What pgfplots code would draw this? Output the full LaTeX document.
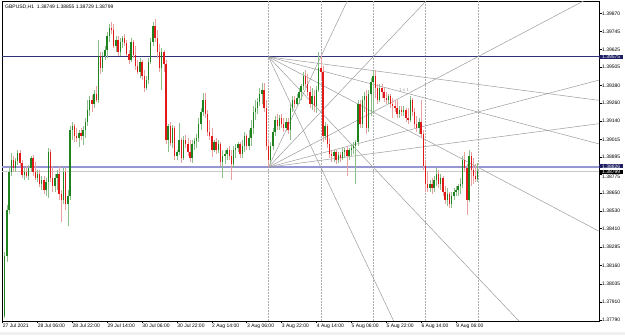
\documentclass[border=0pt]{standalone}
\usepackage{fontspec}
\setmainfont{Liberation Sans}
\usepackage{pgfplots}
\usepackage{pgfplotstable}
\pgfplotsset{compat=1.18}
\definecolor{bullbody}{RGB}{30,130,30}
\definecolor{bullwick}{RGB}{140,190,140}
\definecolor{bearbody}{RGB}{225,25,25}
\definecolor{bearwick}{RGB}{232,160,160}
\definecolor{gannc}{RGB}{155,155,155}
\definecolor{navyline}{RGB}{50,50,120}
\definecolor{lavline}{RGB}{150,150,210}
\definecolor{bidline}{RGB}{200,200,200}
\definecolor{sepline}{RGB}{175,175,175}
\definecolor{boxnavy}{RGB}{30,30,100}
\pgfplotstableread{
i o h l c
1 1.37817 1.38251 1.37803 1.38224
2 1.38224 1.38570 1.38183 1.38536
3 1.38536 1.38821 1.38509 1.38794
4 1.38794 1.38922 1.38766 1.38875
5 1.38875 1.38902 1.38794 1.38821
6 1.38821 1.38888 1.38794 1.38868
7 1.38868 1.38943 1.38841 1.38922
8 1.38922 1.38943 1.38834 1.38855
9 1.38855 1.38875 1.38753 1.38773
10 1.38773 1.38821 1.38739 1.38794
11 1.38794 1.38834 1.38753 1.38766
12 1.38766 1.38841 1.38739 1.38821
13 1.38821 1.38902 1.38794 1.38888
14 1.38888 1.38909 1.38766 1.38794
15 1.38794 1.38861 1.38739 1.38753
16 1.38753 1.38807 1.38726 1.38780
17 1.38780 1.38807 1.38692 1.38712
18 1.38712 1.38766 1.38671 1.38739
19 1.38739 1.38766 1.38644 1.38671
20 1.38671 1.38753 1.38631 1.38726
21 1.38726 1.38956 1.38617 1.38929
22 1.38929 1.38950 1.38726 1.38753
23 1.38753 1.38834 1.38658 1.38699
24 1.38699 1.38780 1.38658 1.38753
25 1.38753 1.38807 1.38671 1.38780
26 1.38780 1.38834 1.38604 1.38644
27 1.38644 1.38671 1.38454 1.38604
28 1.38604 1.38821 1.38577 1.38794
29 1.38794 1.38821 1.38536 1.38577
30 1.38577 1.38671 1.38427 1.38631
31 1.38631 1.39105 1.38604 1.39078
32 1.39078 1.39133 1.39011 1.39105
33 1.39105 1.39119 1.38997 1.39038
34 1.39038 1.39092 1.38997 1.39024
35 1.39024 1.39078 1.38963 1.39058
36 1.39058 1.39092 1.39011 1.39038
37 1.39038 1.39105 1.38977 1.39078
38 1.39078 1.39160 1.39024 1.39133
39 1.39133 1.39282 1.39105 1.39214
40 1.39214 1.39309 1.39173 1.39282
41 1.39282 1.39316 1.39200 1.39255
42 1.39255 1.39350 1.39228 1.39323
43 1.39323 1.39377 1.39268 1.39282
44 1.39282 1.39689 1.39262 1.39580
45 1.39580 1.39607 1.39458 1.39499
46 1.39499 1.39607 1.39472 1.39580
47 1.39580 1.39648 1.39553 1.39621
48 1.39621 1.39743 1.39567 1.39716
49 1.39716 1.39797 1.39675 1.39770
50 1.39770 1.39811 1.39729 1.39757
51 1.39757 1.39797 1.39635 1.39648
52 1.39648 1.39716 1.39607 1.39689
53 1.39689 1.39716 1.39580 1.39607
54 1.39607 1.39702 1.39580 1.39675
55 1.39675 1.39716 1.39635 1.39702
56 1.39702 1.39729 1.39648 1.39668
57 1.39668 1.39689 1.39580 1.39594
58 1.39594 1.39621 1.39526 1.39553
59 1.39553 1.39702 1.39540 1.39675
60 1.39675 1.39689 1.39567 1.39587
61 1.39587 1.39648 1.39485 1.39512
62 1.39512 1.39553 1.39458 1.39472
63 1.39472 1.39567 1.39431 1.39540
64 1.39540 1.39553 1.39417 1.39445
65 1.39445 1.39485 1.39336 1.39363
66 1.39363 1.39445 1.39350 1.39417
67 1.39417 1.39567 1.39390 1.39540
68 1.39540 1.39702 1.39526 1.39675
69 1.39675 1.39811 1.39648 1.39784
70 1.39784 1.39831 1.39675 1.39702
71 1.39702 1.39757 1.39567 1.39607
72 1.39607 1.39662 1.39472 1.39499
73 1.39499 1.39635 1.39350 1.39607
74 1.39607 1.39621 1.39472 1.39526
75 1.39526 1.39553 1.38983 1.39011
76 1.39011 1.39119 1.38929 1.39105
77 1.39105 1.39133 1.38970 1.38990
78 1.38990 1.39112 1.38956 1.39092
79 1.39092 1.39105 1.38875 1.38902
80 1.38902 1.38943 1.38875 1.38929
81 1.38929 1.39126 1.38909 1.39011
82 1.39011 1.39024 1.38855 1.38888
83 1.38888 1.39038 1.38875 1.39011
84 1.39011 1.39044 1.38956 1.38983
85 1.38983 1.39024 1.38902 1.38929
86 1.38929 1.39011 1.38861 1.38888
87 1.38888 1.39011 1.38855 1.38983
88 1.38983 1.39024 1.38943 1.39004
89 1.39004 1.39051 1.38956 1.39024
90 1.39024 1.39160 1.38997 1.39119
91 1.39119 1.39228 1.39078 1.39200
92 1.39200 1.39329 1.39173 1.39282
93 1.39282 1.39329 1.39160 1.39187
94 1.39187 1.39214 1.39038 1.39065
95 1.39065 1.39146 1.39011 1.39038
96 1.39038 1.39092 1.38895 1.38943
97 1.38943 1.39011 1.38929 1.38997
98 1.38997 1.39024 1.38916 1.38943
99 1.38943 1.39011 1.38922 1.38983
100 1.38983 1.38997 1.38834 1.38861
101 1.38861 1.38943 1.38753 1.38902
102 1.38902 1.38943 1.38848 1.38916
103 1.38916 1.38956 1.38875 1.38943
104 1.38943 1.38970 1.38875 1.38902
105 1.38902 1.38943 1.38739 1.38848
106 1.38848 1.38970 1.38821 1.38943
107 1.38943 1.38983 1.38888 1.38956
108 1.38956 1.38997 1.38929 1.38983
109 1.38983 1.38997 1.38888 1.38916
110 1.38916 1.39011 1.38888 1.38970
111 1.38970 1.39065 1.38929 1.39038
112 1.39038 1.39051 1.38943 1.38970
113 1.38970 1.39078 1.38943 1.39024
114 1.39024 1.39146 1.38970 1.39092
115 1.39092 1.39241 1.39051 1.39200
116 1.39200 1.39282 1.39146 1.39228
117 1.39228 1.39295 1.39187 1.39268
118 1.39268 1.39363 1.39241 1.39323
119 1.39323 1.39397 1.39255 1.39350
120 1.39350 1.39397 1.39200 1.39228
121 1.39228 1.39282 1.38943 1.38970
122 1.38970 1.39011 1.38826 1.38875
123 1.38875 1.38997 1.38848 1.38970
124 1.38970 1.39092 1.38943 1.39065
125 1.39065 1.39173 1.39038 1.39146
126 1.39146 1.39187 1.39078 1.39105
127 1.39105 1.39180 1.39078 1.39160
128 1.39160 1.39187 1.39092 1.39119
129 1.39119 1.39160 1.39065 1.39092
130 1.39092 1.39160 1.39072 1.39133
131 1.39133 1.39160 1.39051 1.39078
132 1.39078 1.39255 1.39011 1.39228
133 1.39228 1.39309 1.39200 1.39282
134 1.39282 1.39309 1.39228 1.39255
135 1.39255 1.39323 1.39241 1.39295
136 1.39295 1.39363 1.39255 1.39336
137 1.39336 1.39390 1.39282 1.39377
138 1.39377 1.39472 1.39350 1.39445
139 1.39445 1.39485 1.39363 1.39390
140 1.39390 1.39458 1.39309 1.39336
141 1.39336 1.39377 1.39228 1.39255
142 1.39255 1.39363 1.39214 1.39309
143 1.39309 1.39350 1.39200 1.39241
144 1.39241 1.39377 1.39194 1.39350
145 1.39350 1.39607 1.39336 1.39499
146 1.39499 1.39587 1.39417 1.39472
147 1.39472 1.39512 1.38997 1.39038
148 1.39038 1.39133 1.39011 1.39105
149 1.39105 1.39119 1.38956 1.38983
150 1.38983 1.39024 1.38888 1.38916
151 1.38916 1.38943 1.38861 1.38902
152 1.38902 1.38943 1.38861 1.38929
153 1.38929 1.38943 1.38848 1.38875
154 1.38875 1.38929 1.38855 1.38909
155 1.38909 1.38929 1.38861 1.38888
156 1.38888 1.38956 1.38875 1.38929
157 1.38929 1.38956 1.38888 1.38943
158 1.38943 1.38970 1.38766 1.38902
159 1.38902 1.38956 1.38875 1.38943
160 1.38943 1.38983 1.38902 1.38956
161 1.38956 1.38997 1.38916 1.38970
162 1.38970 1.39011 1.38712 1.38997
163 1.38997 1.39282 1.38970 1.39255
164 1.39255 1.39282 1.39092 1.39119
165 1.39119 1.39309 1.39092 1.39282
166 1.39282 1.39336 1.39200 1.39309
167 1.39309 1.39350 1.39051 1.39092
168 1.39092 1.39350 1.39065 1.39323
169 1.39323 1.39431 1.39173 1.39404
170 1.39404 1.39485 1.39200 1.39445
171 1.39445 1.39485 1.39295 1.39363
172 1.39363 1.39390 1.39255 1.39282
173 1.39282 1.39390 1.39268 1.39363
174 1.39363 1.39390 1.39295 1.39336
175 1.39336 1.39363 1.39268 1.39295
176 1.39295 1.39336 1.39255 1.39282
177 1.39282 1.39323 1.39255 1.39309
178 1.39309 1.39323 1.39228 1.39255
179 1.39255 1.39295 1.39160 1.39241
180 1.39241 1.39282 1.39200 1.39228
181 1.39228 1.39282 1.39160 1.39187
182 1.39187 1.39241 1.39160 1.39214
183 1.39214 1.39241 1.39173 1.39200
184 1.39200 1.39241 1.39173 1.39214
185 1.39214 1.39228 1.39133 1.39160
186 1.39160 1.39228 1.39119 1.39146
187 1.39146 1.39309 1.39133 1.39282
188 1.39282 1.39295 1.39173 1.39200
189 1.39200 1.39228 1.39092 1.39119
190 1.39119 1.39173 1.39065 1.39092
191 1.39092 1.39160 1.39051 1.39133
192 1.39133 1.39282 1.39024 1.39051
193 1.39051 1.39078 1.38807 1.38834
194 1.38834 1.38875 1.38658 1.38712
195 1.38712 1.38794 1.38658 1.38685
196 1.38685 1.38739 1.38658 1.38712
197 1.38712 1.38753 1.38644 1.38685
198 1.38685 1.38766 1.38658 1.38739
199 1.38739 1.38821 1.38699 1.38780
200 1.38780 1.38807 1.38685 1.38712
201 1.38712 1.38780 1.38671 1.38753
202 1.38753 1.38766 1.38631 1.38658
203 1.38658 1.38699 1.38577 1.38604
204 1.38604 1.38685 1.38563 1.38644
205 1.38644 1.38658 1.38549 1.38577
206 1.38577 1.38658 1.38549 1.38631
207 1.38631 1.38685 1.38604 1.38658
208 1.38658 1.38699 1.38631 1.38671
209 1.38671 1.38712 1.38631 1.38699
210 1.38699 1.38753 1.38644 1.38712
211 1.38712 1.38902 1.38685 1.38875
212 1.38875 1.38929 1.38794 1.38821
213 1.38821 1.38848 1.38502 1.38604
214 1.38604 1.38943 1.38590 1.38902
215 1.38902 1.38929 1.38699 1.38807
216 1.38807 1.38888 1.38712 1.38766
217 1.38766 1.38848 1.38726 1.38749
218 1.38749 1.38855 1.38729 1.38799
}\candles
\begin{document}
\begin{tikzpicture}[x=1pt,y=1pt]
\begin{axis}[
  scale only axis,
  width=597pt, height=319.5pt,
  xmin=-0.23, xmax=273.6, ymin=1.37783, ymax=1.39950,
  clip mode=individual,
  axis line style={black, line width=0.7pt},
  xtick={0,16,32,48,64,80,96,112,128,144,160,176,192,208},
  xticklabels={27 Jul 2021,28 Jul 06:00,28 Jul 22:00,29 Jul 14:00,30 Jul 06:00,30 Jul 22:00,2 Aug 14:00,3 Aug 06:00,3 Aug 22:00,4 Aug 14:00,5 Aug 06:00,5 Aug 22:00,6 Aug 14:00,9 Aug 06:00},
  ytick={1.39870,1.39745,1.39625,1.39505,1.39380,1.39260,1.39140,1.39015,1.38895,1.38650,1.38530,1.38410,1.38285,1.38160,1.38035,1.37910,1.37790},
  yticklabels={1.39870,1.39745,1.39625,1.39505,1.39380,1.39260,1.39140,1.39015,1.38895,1.38650,1.38530,1.38410,1.38285,1.38160,1.38035,1.37910,1.37790},
  extra y ticks={1.38775},
  extra y tick labels={1.38775},
  extra y tick style={yticklabel style={yshift=-1.6pt}},
  xtick pos=bottom, ytick pos=right, yticklabel pos=right,
  tick align=outside, major tick length=2.5pt,
  tick style={black, line width=0.5pt},
  ticklabel style={font=\fontsize{5}{6}\selectfont, text=black},
  xticklabel style={anchor=north west, inner sep=0.5pt, xshift=-0.3pt},
  yticklabel style={anchor=west, inner sep=0.5pt},
  scaled y ticks=false,
  /pgf/number format/assume math mode=true,
]
% day separators
\addplot[sepline, line width=0.5pt, dash pattern=on 1.5pt off 1.5pt, forget plot] coordinates {(122,1.37783) (122,1.39950)};
\addplot[sepline, line width=0.5pt, dash pattern=on 1.5pt off 1.5pt, forget plot] coordinates {(146,1.37783) (146,1.39950)};
\addplot[sepline, line width=0.5pt, dash pattern=on 1.5pt off 1.5pt, forget plot] coordinates {(170,1.37783) (170,1.39950)};
\addplot[sepline, line width=0.5pt, dash pattern=on 1.5pt off 1.5pt, forget plot] coordinates {(194,1.37783) (194,1.39950)};
\addplot[sepline, line width=0.5pt, dash pattern=on 1.5pt off 1.5pt, forget plot] coordinates {(218,1.37783) (218,1.39950)};
% horizontal levels
\addplot[lavline, line width=1.6pt, forget plot] coordinates {(-0.23,1.38826) (273.6,1.38826)};
\addplot[bidline, line width=0.6pt, forget plot] coordinates {(-0.23,1.38799) (273.6,1.38799)};
\addplot[navyline, line width=0.8pt, forget plot] coordinates {(-0.23,1.39575) (273.6,1.39575)};
% Gann fan from the high
\addplot[gannc, line width=0.5pt, forget plot] coordinates {(122,1.39575) (280,1.39267)};
\addplot[gannc, line width=0.5pt, forget plot] coordinates {(122,1.39575) (280,1.38959)};
\addplot[gannc, line width=0.5pt, forget plot] coordinates {(122,1.39575) (280,1.38342)};
\addplot[gannc, line width=0.5pt, forget plot] coordinates {(122,1.39575) (280,1.37110)};
\addplot[gannc, line width=0.5pt, forget plot] coordinates {(122,1.39575) (280,1.34644)};
% Gann fan from the low
\addplot[gannc, line width=0.5pt, forget plot] coordinates {(122,1.38826) (280,1.39134)};
\addplot[gannc, line width=0.5pt, forget plot] coordinates {(122,1.38826) (280,1.39442)};
\addplot[gannc, line width=0.5pt, forget plot] coordinates {(122,1.38826) (280,1.40059)};
\addplot[gannc, line width=0.5pt, forget plot] coordinates {(122,1.38826) (280,1.41291)};
\addplot[gannc, line width=0.5pt, forget plot] coordinates {(122,1.38826) (280,1.43757)};
% candles: wicks
\addplot[draw=none, mark=none, forget plot, restrict y to domain=1.3:1.5,
  error bars/.cd, y dir=both, y explicit, error mark=none,
  error bar style={draw=bullwick, line width=0.6pt}]
  table[x=i, y expr={\thisrow{c}>=\thisrow{o} ? 0.5*(\thisrow{h}+\thisrow{l}) : 0},
        y error expr={0.5*(\thisrow{h}-\thisrow{l})}] {\candles};
\addplot[draw=none, mark=none, forget plot, restrict y to domain=1.3:1.5,
  error bars/.cd, y dir=both, y explicit, error mark=none,
  error bar style={draw=bearwick, line width=0.6pt}]
  table[x=i, y expr={\thisrow{c}<\thisrow{o} ? 0.5*(\thisrow{h}+\thisrow{l}) : 0},
        y error expr={0.5*(\thisrow{h}-\thisrow{l})}] {\candles};
% candles: bodies
\addplot[draw=none, mark=none, forget plot, restrict y to domain=1.3:1.5,
  error bars/.cd, y dir=both, y explicit, error mark=none,
  error bar style={draw=bullbody, line width=1.4pt}]
  table[x=i, y expr={\thisrow{c}>=\thisrow{o} ? 0.5*(\thisrow{o}+\thisrow{c}) : 0},
        y error expr={0.5*abs(\thisrow{c}-\thisrow{o})+0.000004}] {\candles};
\addplot[draw=none, mark=none, forget plot, restrict y to domain=1.3:1.5,
  error bars/.cd, y dir=both, y explicit, error mark=none,
  error bar style={draw=bearbody, line width=1.4pt}]
  table[x=i, y expr={\thisrow{c}<\thisrow{o} ? 0.5*(\thisrow{o}+\thisrow{c}) : 0},
        y error expr={0.5*abs(\thisrow{c}-\thisrow{o})+0.000004}] {\candles};
\node[text=gannc, font=\fontsize{4.5}{5}\selectfont] at (axis cs:184.2,1.39350) {1 x 1};
\coordinate (bA) at (axis cs:273.6,1.39575);
\coordinate (bB) at (axis cs:273.6,1.38826);
\coordinate (bC) at (axis cs:273.6,1.38799);
\coordinate (LL) at (rel axis cs:0,0);
\coordinate (UR) at (rel axis cs:1,1);
\end{axis}
\node[anchor=west, fill=boxnavy, text=white, inner xsep=1pt, inner ysep=0.3pt, minimum width=24pt, font=\fontsize{5}{6}\selectfont] at (bA) {1.39575};
\node[anchor=west, fill=boxnavy, text=white, inner xsep=1pt, inner ysep=0.3pt, minimum width=24pt, font=\fontsize{5}{6}\selectfont] at ([yshift=0.9pt]bB) {1.38826};
\node[anchor=west, fill=black, text=white, inner xsep=1pt, inner ysep=0.3pt, minimum width=24pt, font=\fontsize{5}{6}\selectfont] at ([yshift=-0.4pt]bC) {1.38799};
\path (LL |- UR) ++(3pt,-5.5pt) node[anchor=west, inner sep=0pt, font=\fontsize{5}{6}\selectfont] {GBPUSD,H1\ \ 1.38749 1.38855 1.38729 1.38799};
\fill[black!6] ([shift={(-2pt,-14pt)}]LL) rectangle ([shift={(26pt,-10.5pt)}]LL -| UR);
\pgfresetboundingbox
\useasboundingbox ([shift={(-2pt,-14pt)}]LL) rectangle ([shift={(26pt,1.5pt)}]UR);
\end{tikzpicture}
\end{document}
